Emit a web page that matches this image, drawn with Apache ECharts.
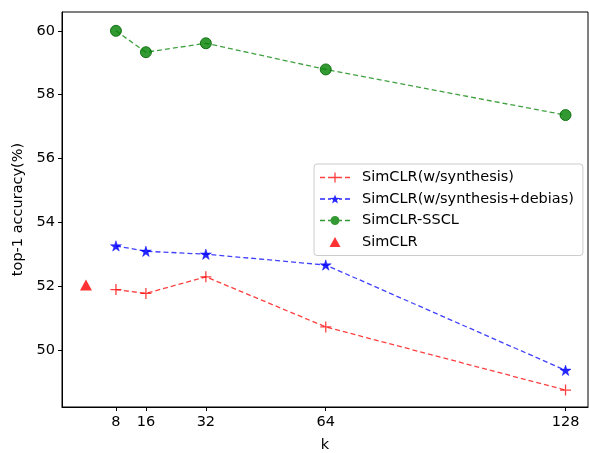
<!DOCTYPE html>
<html>
<head>
<meta charset="utf-8">
<script src="https://cdn.jsdelivr.net/npm/echarts@6/dist/echarts.min.js"></script>
<style>html,body{margin:0;padding:0;background:#fff}#c{width:589px;height:453px}</style>
</head>
<body>
<div id="c"></div>
<script>
const kValues = [8, 16, 32, 64, 128];
const synthesis = [51.89, 51.77, 52.29, 50.72, 48.74];
const synthesisDebias = [53.26, 53.09, 53.00, 52.66, 49.36];
const sscl = [60.00, 59.33, 59.61, 58.79, 57.36];
const simclrK = [0];
const simclr = [52.03];
const xTicks = [8, 16, 32, 64, 128];
const yTicks = [50, 52, 54, 56, 58, 60];
const seriesNames = ['SimCLR(w/synthesis)', 'SimCLR(w/synthesis+debias)', 'SimCLR-SSCL', 'SimCLR'];

const pair = (xs, ys) => xs.map((x, i) => [x, ys[i]]);
const FONT = 'DejaVu Sans';
const FS = 14.5;
const STAR = 'path://M50,0 L61,35 L98,35 L68,57 L79,91 L50,70 L21,91 L32,57 L2,35 L39,35 Z';
const PLUS = 'path://M0,10 L20,10 M10,0 L10,20';

// legend icons: dashed line with marker, 30x10 box
const rect = (x0, x1, y0, y1) => `M${x0},${y0} L${x1},${y0} L${x1},${y1} L${x0},${y1} Z `;
const dash = (x0, x1) => rect(x0, x1, 4.3, 5.7);
const ICON_PLUS = 'path://' + dash(0, 5) + rect(8, 22, 4.35, 5.65) + rect(14.35, 15.65, 0, 10) + dash(25, 30);
const ICON_STAR = 'path://' + dash(0, 5) + dash(8, 11) +
  'M15,0.5 L16.18,3.88 L19.75,3.95 L16.9,6.12 L17.94,9.55 L15,7.5 L12.06,9.55 L13.1,6.12 L10.25,3.95 L13.82,3.88 Z ' +
  dash(19, 22) + dash(25, 30);
const ICON_CIRCLE = 'path://' + dash(0, 5) + dash(8, 10.6) +
  'M10.5,5 A4.5,4.5 0 1 1 19.5,5 A4.5,4.5 0 1 1 10.5,5 Z ' + dash(19.4, 22) + dash(25, 30);
const ICON_TRI = 'path://M5.5,0 L11,10 L0,10 Z';
const legendIcons = [ICON_PLUS, ICON_STAR, ICON_CIRCLE, ICON_TRI];

const chart = echarts.init(document.getElementById('c'), null, {renderer: 'canvas'});
chart.setOption({
  animation: false,
  backgroundColor: '#fff',
  grid: {left: 62, top: 12, right: 1, bottom: 46, outerBoundsMode: 'none', containLabel: false,
         show: true, borderColor: '#000', borderWidth: 1, backgroundColor: 'transparent'},
  xAxis: {
    type: 'value', min: -6.4, max: 134,
    name: 'k', nameLocation: 'middle', nameGap: 31,
    nameTextStyle: {fontFamily: FONT, fontSize: FS, color: '#000'},
    axisLine: {show: true, onZero: false, lineStyle: {color: '#000', width: 1}},
    axisTick: {show: true, length: 4, lineStyle: {color: '#000'}, customValues: xTicks},
    axisLabel: {fontFamily: FONT, fontSize: FS, color: '#000', margin: 8, customValues: xTicks},
    splitLine: {show: false}
  },
  yAxis: {
    type: 'value', min: 48.21, max: 60.59,
    name: 'top-1 accuracy(%)', nameLocation: 'middle', nameGap: 32,
    nameTextStyle: {fontFamily: FONT, fontSize: FS, color: '#000'},
    axisLine: {show: true, onZero: false, lineStyle: {color: '#000', width: 1}},
    axisTick: {show: true, length: 4, lineStyle: {color: '#000'}, customValues: yTicks},
    axisLabel: {fontFamily: FONT, fontSize: FS, color: '#000', margin: 7, customValues: yTicks},
    splitLine: {show: false}
  },
  legend: {
    left: 314, top: 164, orient: 'vertical',
    itemWidth: 30, itemHeight: 10, itemGap: 6.5,
    padding: [6, 9, 6, 6],
    symbolKeepAspect: true,
    borderColor: '#cccccc', borderWidth: 1, borderRadius: 3,
    backgroundColor: 'rgba(255,255,255,0.8)',
    itemStyle: {borderWidth: 0},
    textStyle: {fontFamily: FONT, fontSize: FS, color: '#000', padding: [0, 0, 0, 7]},
    data: seriesNames.map((n, i) => ({name: n, icon: legendIcons[i]}))
  },
  series: [
    {
      name: seriesNames[0], type: 'line', data: pair(kValues, synthesis),
      symbol: PLUS, symbolSize: 11,
      lineStyle: {color: 'rgba(255,0,0,0.75)', width: 1.3, type: [5, 3]},
      itemStyle: {color: 'rgba(255,0,0,0.75)', borderColor: 'rgba(255,0,0,0.75)', borderWidth: 1.3}
    },
    {
      name: seriesNames[1], type: 'line', data: pair(kValues, synthesisDebias),
      symbol: STAR, symbolSize: 11, symbolKeepAspect: true,
      lineStyle: {color: 'rgba(0,0,255,0.75)', width: 1.3, type: [5, 3]},
      itemStyle: {color: 'rgba(0,0,255,0.85)', borderColor: 'rgba(0,0,255,0.85)', borderWidth: 0.5}
    },
    {
      name: seriesNames[2], type: 'line', data: pair(kValues, sscl),
      symbol: 'circle', symbolSize: 11,
      lineStyle: {color: 'rgba(0,128,0,0.75)', width: 1.3, type: [5, 3]},
      itemStyle: {color: 'rgba(0,128,0,0.8)', borderColor: 'rgba(0,100,0,0.85)', borderWidth: 1}
    },
    {
      name: seriesNames[3], type: 'scatter', data: pair(simclrK, simclr),
      symbol: 'triangle', symbolSize: [12, 11],
      itemStyle: {color: '#ff0000'}
    }
  ]
});
</script>
</body>
</html>
